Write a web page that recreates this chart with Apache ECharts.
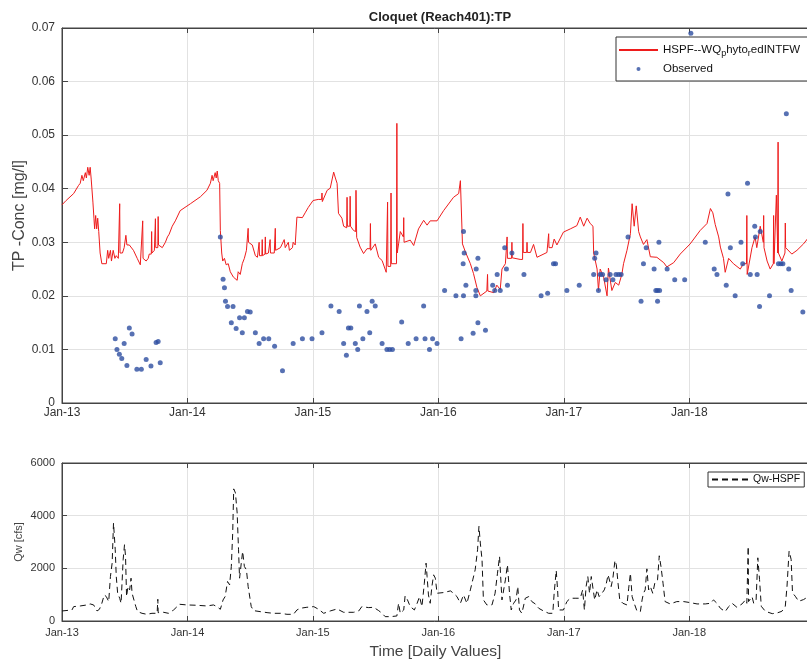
<!DOCTYPE html>
<html><head><meta charset="utf-8">
<script src="https://cdn.jsdelivr.net/npm/echarts@6/dist/echarts.min.js"></script>
<style>html,body{margin:0;padding:0;background:#fff}#c{width:807px;height:664px}</style>
</head><body><div id="c"></div>
<script>
// ---- DATA (x = days since 2013-01-01) ----
const tickYears = [2013, 2014, 2015, 2016, 2017, 2018];
const axisEndDay = 2175; // right edge of plotted window (~mid Dec 2018)
const SIM_NAME = 'HSPF--WQ_phyto_redINTFW';
const OBS_NAME = 'Observed';
const FLOW_NAME = 'Qw-HSPF';

const simulatedTP = [
[0,0.037],[12,0.0378],[34,0.0391],[48,0.0406],[53,0.041],[58,0.0425],[62,0.0415],[68,0.043],[71,0.042],[75,0.044],[79,0.0425],[82,0.044],[85,0.0418],[90,0.0375],[93,0.0345],[95,0.0325],[98,0.035],[101,0.0325],[104,0.0345],[107,0.032],[111,0.028],[116,0.026],[129,0.026],[133,0.0285],[136,0.027],[141,0.0285],[144,0.0265],[149,0.0285],[154,0.027],[158,0.0275],[164,0.027],[167,0.027],[168,0.0372],[169,0.028],[176,0.028],[181,0.029],[185,0.029],[186,0.0313],[189,0.0295],[196,0.0295],[208,0.0285],[219,0.027],[228,0.0258],[233,0.0255],[234,0.0255],[235,0.034],[236,0.027],[245,0.0265],[251,0.027],[254,0.0278],[260,0.0278],[261,0.032],[262,0.028],[269,0.0285],[271,0.0285],[272,0.0344],[273,0.029],[279,0.029],[280,0.0348],[281,0.0295],[292,0.029],[301,0.030],[307,0.031],[312,0.0315],[321,0.033],[330,0.034],[344,0.0359],[374,0.0372],[403,0.0385],[422,0.0397],[432,0.041],[437,0.0425],[440,0.0415],[446,0.043],[449,0.042],[452,0.0433],[455,0.0415],[459,0.041],[461,0.0322],[465,0.028],[468,0.0265],[473,0.027],[478,0.0258],[484,0.026],[490,0.0245],[499,0.0235],[510,0.0229],[513,0.0245],[519,0.024],[525,0.026],[531,0.027],[537,0.0285],[541,0.0285],[542,0.0326],[543,0.030],[554,0.0295],[563,0.0275],[569,0.0272],[573,0.0272],[574,0.030],[575,0.0275],[582,0.0275],[583,0.0305],[584,0.0275],[591,0.0278],[592,0.031],[593,0.0278],[601,0.028],[605,0.028],[606,0.0305],[607,0.028],[618,0.028],[621,0.0326],[622,0.0285],[636,0.029],[647,0.0305],[650,0.029],[659,0.030],[662,0.0285],[671,0.029],[673,0.030],[679,0.0295],[684,0.0347],[688,0.0345],[700,0.0346],[708,0.0355],[717,0.0365],[731,0.0378],[746,0.038],[756,0.038],[757,0.0392],[758,0.0376],[761,0.0378],[772,0.0397],[781,0.0401],[791,0.0431],[796,0.042],[801,0.041],[805,0.0354],[815,0.0345],[820,0.033],[825,0.0327],[829,0.0327],[830,0.0384],[831,0.033],[838,0.033],[839,0.0386],[840,0.033],[849,0.0322],[855,0.032],[856,0.0397],[858,0.0309],[863,0.0309],[868,0.0291],[878,0.0279],[888,0.0288],[897,0.0288],[898,0.0335],[899,0.0285],[912,0.0297],[922,0.0272],[932,0.0266],[944,0.0244],[947,0.0244],[948,0.0375],[949,0.0255],[957,0.0255],[958,0.0392],[959,0.026],[964,0.026],[974,0.026],[975,0.0522],[976,0.028],[980,0.0297],[985,0.032],[994,0.031],[995,0.0346],[996,0.030],[999,0.030],[1014,0.0304],[1024,0.0294],[1038,0.0325],[1053,0.0341],[1063,0.0332],[1072,0.034],[1092,0.034],[1111,0.0359],[1140,0.0384],[1155,0.0391],[1160,0.0415],[1165,0.0418],[1166,0.0297],[1174,0.0283],[1189,0.026],[1198,0.0242],[1208,0.0216],[1218,0.020],[1237,0.0209],[1238,0.0209],[1239,0.024],[1240,0.0209],[1257,0.0206],[1266,0.022],[1276,0.0212],[1281,0.025],[1291,0.026],[1295,0.026],[1296,0.031],[1297,0.027],[1309,0.027],[1310,0.030],[1311,0.0271],[1334,0.0268],[1341,0.0268],[1342,0.0335],[1343,0.0281],[1353,0.0281],[1354,0.030],[1355,0.0281],[1364,0.0281],[1373,0.0296],[1383,0.0272],[1412,0.0281],[1416,0.0281],[1417,0.0316],[1418,0.029],[1427,0.029],[1433,0.0306],[1441,0.0295],[1460,0.0319],[1480,0.0325],[1499,0.0331],[1509,0.0347],[1519,0.033],[1529,0.0345],[1538,0.0335],[1546,0.033],[1548,0.028],[1558,0.025],[1562,0.021],[1567,0.025],[1577,0.0235],[1587,0.020],[1591,0.0252],[1601,0.021],[1611,0.0225],[1621,0.022],[1630,0.024],[1635,0.026],[1645,0.0285],[1655,0.0316],[1660,0.0372],[1666,0.033],[1672,0.0368],[1676,0.037],[1679,0.032],[1684,0.031],[1693,0.0296],[1703,0.0305],[1713,0.0273],[1732,0.0272],[1752,0.0262],[1761,0.0254],[1781,0.0262],[1800,0.0278],[1829,0.0297],[1858,0.0322],[1878,0.0335],[1888,0.0363],[1895,0.0355],[1902,0.0333],[1912,0.031],[1917,0.0291],[1926,0.027],[1931,0.0244],[1941,0.027],[1955,0.026],[1975,0.025],[1984,0.026],[1993,0.026],[1994,0.035],[1995,0.024],[2009,0.029],[2018,0.031],[2023,0.029],[2033,0.033],[2042,0.03],[2043,0.035],[2044,0.029],[2053,0.0265],[2062,0.025],[2071,0.026],[2072,0.035],[2073,0.026],[2077,0.026],[2080,0.0388],[2084,0.028],[2085,0.0487],[2086,0.028],[2096,0.0265],[2105,0.028],[2106,0.0336],[2107,0.029],[2125,0.0278],[2140,0.0285],[2159,0.0297],[2175,0.031]
];

const observedTP = [
[155,0.012],[160,0.010],[167,0.0091],[174,0.0083],[181,0.0111],[189,0.007],[196,0.014],[204,0.0129],[218,0.0063],[231,0.0063],[245,0.0081],[259,0.0069],[274,0.0113],[280,0.0115],[286,0.0075],
[461,0.031],[469,0.0231],[473,0.0215],[476,0.019],[482,0.018],[493,0.015],[498,0.018],[507,0.0139],[517,0.0159],[525,0.0131],[531,0.0159],[540,0.0171],[548,0.017],[563,0.0131],[574,0.0111],[587,0.012],[602,0.012],[619,0.0106],[642,0.006],[673,0.0111],[700,0.012],[728,0.012],
[757,0.0131],[783,0.0181],[807,0.0171],[820,0.0111],[828,0.0089],[834,0.014],[841,0.014],[854,0.0111],[861,0.010],[866,0.0181],[876,0.012],[888,0.0171],[896,0.0131],[903,0.019],[912,0.0181],[932,0.0111],[946,0.010],[954,0.010],[962,0.010],[989,0.0151],[1008,0.0111],[1031,0.012],[1053,0.0181],[1057,0.012],[1070,0.010],[1079,0.012],[1092,0.0111],
[1114,0.021],[1147,0.020],[1162,0.012],[1169,0.020],[1169,0.032],[1171,0.028],[1168,0.026],[1176,0.022],[1197,0.013],[1205,0.021],[1205,0.020],[1211,0.015],[1211,0.027],[1206,0.025],[1233,0.0136],[1254,0.022],[1260,0.021],[1267,0.024],[1276,0.021],[1289,0.029],[1294,0.025],[1297,0.022],[1310,0.028],[1345,0.024],[1395,0.020],[1414,0.0205],[1431,0.026],[1437,0.026],
[1470,0.021],[1506,0.022],[1548,0.024],[1551,0.027],[1555,0.028],[1562,0.021],[1567,0.024],[1574,0.024],[1584,0.023],[1596,0.024],[1604,0.023],[1613,0.024],[1621,0.024],[1628,0.024],[1648,0.031],[1686,0.019],[1693,0.026],[1701,0.029],[1724,0.025],[1729,0.021],[1734,0.021],[1734,0.019],[1740,0.021],[1738,0.030],[1762,0.025],[1784,0.023],[1813,0.023],
[1831,0.069],[1873,0.030],[1899,0.025],[1907,0.024],[1934,0.022],[1939,0.039],[1946,0.029],[1960,0.020],[1977,0.030],[1982,0.026],[1996,0.041],[2004,0.024],[2017,0.033],[2019,0.031],[2024,0.024],[2031,0.018],[2033,0.032],[2060,0.020],[2086,0.026],[2093,0.026],[2099,0.026],[2109,0.054],[2116,0.025],[2123,0.021],[2157,0.017]
];

const flowQw = [
[0,381],[29,419],[34,546],[53,571],[73,610],[82,648],[92,610],[102,381],[109,445],[116,673],[123,990],[129,927],[136,737],[141,1689],[146,2197],[150,3721],[152,3658],[155,2705],[158,1689],[162,1054],[168,864],[172,673],[178,2324],[182,2896],[185,2451],[188,927],[192,1308],[197,1181],[201,1626],[204,1054],[208,990],[215,546],[220,356],[233,292],[247,254],[262,292],[277,292],[278,292],[279,825],[280,318],[296,330],[310,292],[325,419],[335,546],[342,635],[364,610],[393,597],[422,571],[441,610],[451,546],[461,445],[469,800],[475,927],[482,1499],[488,1372],[493,2070],[497,3340],[500,5017],[505,4864],[510,4102],[514,2705],[517,1626],[522,2197],[526,2642],[531,2070],[537,1943],[542,1308],[546,1372],[551,546],[558,394],[577,356],[597,318],[616,292],[636,292],[655,254],[674,254],[684,419],[694,483],[713,521],[733,546],[747,445],[762,292],[781,381],[801,457],[820,330],[849,330],[864,381],[873,546],[893,508],[907,521],[922,394],[932,292],[941,165],[956,165],[975,191],[980,673],[985,292],[995,419],[999,953],[1006,800],[1014,546],[1026,419],[1034,673],[1041,927],[1048,546],[1055,1435],[1060,2197],[1063,1689],[1067,990],[1072,673],[1077,1308],[1082,1753],[1087,1626],[1092,1054],[1111,1080],[1131,1143],[1140,1054],[1150,927],[1160,673],[1169,990],[1179,673],[1189,1181],[1196,1562],[1203,1943],[1210,2705],[1214,3594],[1218,2959],[1223,2324],[1227,800],[1237,610],[1252,610],[1261,1054],[1268,1816],[1274,2451],[1281,800],[1286,737],[1291,1562],[1297,2134],[1303,1054],[1308,419],[1315,673],[1322,800],[1327,1308],[1332,419],[1339,292],[1349,864],[1359,927],[1368,737],[1378,648],[1388,483],[1402,381],[1417,292],[1429,292],[1433,1054],[1439,1918],[1443,1181],[1446,419],[1460,419],[1470,737],[1480,864],[1494,864],[1509,864],[1516,1181],[1521,419],[1526,1308],[1531,1689],[1536,1054],[1541,1689],[1546,1753],[1551,800],[1558,1181],[1564,927],[1572,1054],[1579,1181],[1585,1435],[1590,1753],[1594,1689],[1599,1308],[1604,1626],[1610,2299],[1614,2134],[1619,1435],[1624,800],[1633,673],[1645,610],[1650,1245],[1655,1816],[1660,927],[1666,673],[1674,381],[1684,356],[1689,800],[1693,1054],[1698,1181],[1703,1981],[1708,1181],[1713,1308],[1720,1054],[1727,1499],[1734,1562],[1739,2477],[1744,2070],[1750,1435],[1756,737],[1771,648],[1790,737],[1810,737],[1829,699],[1849,648],[1873,648],[1888,673],[1897,800],[1907,673],[1917,483],[1931,356],[1941,546],[1951,673],[1965,521],[1980,648],[1990,800],[1994,673],[1997,673],[1998,2832],[1999,737],[2009,927],[2014,673],[2021,800],[2026,2400],[2031,1575],[2036,559],[2048,368],[2068,279],[2082,305],[2096,368],[2106,559],[2111,1321],[2117,2654],[2123,2337],[2127,1067],[2135,940],[2145,749],[2159,813],[2175,940]
];

// ---- CHART ----
const toYear = d => tickYears[0] + d / 365.25;
const xMin = tickYears[0];
const xMax = toYear(axisEndDay);
const FONT = '"Liberation Sans", Arial, Helvetica, sans-serif';
const AX = '#444';
const GRIDC = '#e2e2e2';
const yearLabel = v => {
  const r = Math.round(v);
  return Math.abs(v - r) < 1e-6 && tickYears.includes(r) ? 'Jan-' + String(r).slice(2) : '';
};
const DOT = 'path://M0,0M37,12M16.5,6a2,2 0 1,0 4,0a2,2 0 1,0 -4,0z';

function xAx(gridIndex, pos, showLabels, extra) {
  return Object.assign({
    gridIndex, type: 'value', position: pos, min: xMin, max: xMax, interval: 1,
    axisLine: {show: true, onZero: false, lineStyle: {color: AX, width: 1}},
    axisTick: {show: true, inside: true, length: 5, lineStyle: {color: AX}},
    axisLabel: {show: showLabels, formatter: yearLabel, showMaxLabel: false, color: '#333', fontFamily: FONT},
    splitLine: {show: showLabels, lineStyle: {color: GRIDC, width: 1}}
  }, extra || {});
}

const chart = echarts.init(document.getElementById('c'), null, {renderer: 'canvas'});
chart.setOption({
  animation: false,
  backgroundColor: '#fff',
  textStyle: {fontFamily: FONT},
  title: {text: 'Cloquet (Reach401):TP', left: 435, top: 6, textAlign: 'center',
    textStyle: {fontSize: 13, fontWeight: 'bold', color: '#222', fontFamily: FONT}},
  grid: [
    {left: 62, right: -2, top: 28, height: 375, show: true, borderColor: AX, borderWidth: 1, backgroundColor: 'transparent', outerBoundsMode: 'none', containLabel: false},
    {left: 62, right: -2, top: 463, height: 158, show: true, borderColor: AX, borderWidth: 1, backgroundColor: 'transparent', outerBoundsMode: 'none', containLabel: false}
  ],
  legend: [
    {orient: 'vertical', left: 616, top: 37, padding: [7, 8, 6, 2], itemGap: 5, itemWidth: 39, itemHeight: 12,
     backgroundColor: '#fff', borderColor: '#333', borderWidth: 1, selectedMode: false,
     textStyle: {fontSize: 11.5, color: '#111', fontFamily: FONT,
       rich: {s: {fontSize: 9, color: '#111', fontFamily: FONT, padding: [7, 0, 0, 0]}}},
     formatter: n => n === SIM_NAME ? 'HSPF--WQ{s|p}hyto{s|r}edINTFW' : n,
     data: [{name: SIM_NAME, itemStyle: {opacity: 0}}, {name: OBS_NAME, icon: DOT}]},
    {orient: 'horizontal', left: 708, top: 472, padding: [2, 4, 2, 3], itemWidth: 36, itemHeight: 12,
     backgroundColor: '#fff', borderColor: '#333', borderWidth: 1, selectedMode: false,
     textStyle: {fontSize: 10.5, color: '#111', fontFamily: FONT},
     data: [{name: FLOW_NAME, itemStyle: {opacity: 0}}]}
  ],
  xAxis: [
    xAx(0, 'bottom', true, {axisLabel: {formatter: yearLabel, showMaxLabel: false, color: '#333', fontSize: 12, margin: 4, fontFamily: FONT}}),
    xAx(0, 'top', false),
    xAx(1, 'bottom', true, {axisLabel: {formatter: yearLabel, showMaxLabel: false, color: '#333', fontSize: 11, margin: 6, fontFamily: FONT},
      name: 'Time [Daily Values]', nameLocation: 'middle', nameGap: 23, nameMoveOverlap: false,
      nameTextStyle: {fontSize: 15.5, color: '#444', fontFamily: FONT}}),
    xAx(1, 'top', false)
  ],
  yAxis: [
    {gridIndex: 0, type: 'value', min: 0, max: 0.07, interval: 0.01,
     name: 'TP -Conc [mg/l]', nameLocation: 'middle', nameGap: 34, nameMoveOverlap: false,
     nameTextStyle: {fontSize: 16, color: '#444', fontFamily: FONT},
     axisLine: {show: true, lineStyle: {color: AX}},
     axisTick: {show: true, inside: true, length: 6, lineStyle: {color: AX}},
     axisLabel: {color: '#333', fontSize: 12, margin: 7, fontFamily: FONT, formatter: v => v === 0 ? '0' : v.toFixed(2)},
     splitLine: {show: true, lineStyle: {color: GRIDC}}},
    {gridIndex: 1, type: 'value', min: 0, max: 6000, interval: 2000,
     name: 'Qw [cfs]', nameLocation: 'middle', nameGap: 38, nameMoveOverlap: false,
     nameTextStyle: {fontSize: 11, color: '#444', fontFamily: FONT},
     axisLine: {show: true, lineStyle: {color: AX}},
     axisTick: {show: true, inside: true, length: 5, lineStyle: {color: AX}},
     axisLabel: {color: '#333', fontSize: 11, margin: 7, fontFamily: FONT, formatter: v => String(Math.round(v))},
     splitLine: {show: true, lineStyle: {color: GRIDC}}}
  ],
  series: [
    {name: SIM_NAME, type: 'line', xAxisIndex: 0, yAxisIndex: 0, symbol: 'none', z: 3,
     data: simulatedTP.map(p => [toYear(p[0]), p[1]]),
     lineStyle: {color: '#ee1c1c', width: 1}, itemStyle: {color: '#ee1c1c'}},
    {name: OBS_NAME, type: 'scatter', xAxisIndex: 0, yAxisIndex: 0, symbol: 'circle', symbolSize: 5, z: 4,
     data: observedTP.map(p => [toYear(p[0]), p[1]]),
     itemStyle: {color: '#2d4ea0'}},
    {name: FLOW_NAME, type: 'line', xAxisIndex: 2, yAxisIndex: 1, symbol: 'none',
     data: flowQw.map(p => [toYear(p[0]), p[1]]),
     lineStyle: {color: '#111', width: 1, type: [6, 4]}, itemStyle: {color: '#111'}}
  ]
});
</script>
</body></html>
